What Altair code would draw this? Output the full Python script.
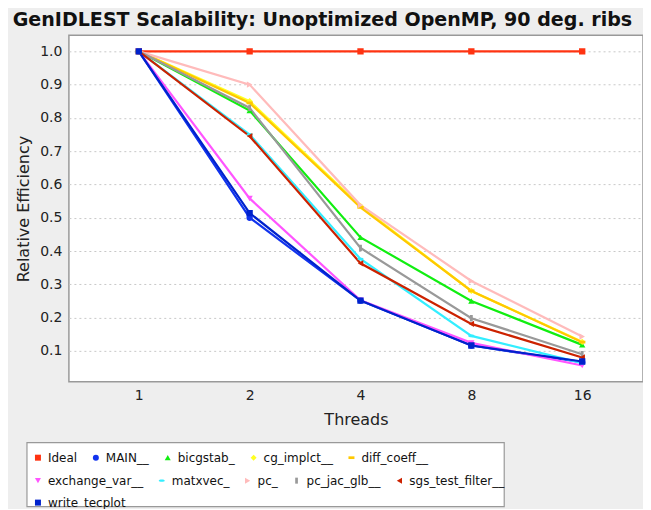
import altair as alt
import pandas as pd

threads = [1, 2, 4, 8, 16]
series_names = ["Ideal", "MAIN__", "bicgstab_", "cg_implct__", "diff_coeff__",
                "exchange_var__", "matxvec_", "pc_", "pc_jac_glb__",
                "sgs_test_filter__", "write_tecplot__"]
ideal = [1.0, 1.0, 1.0, 1.0, 1.0]
main_ = [1.0, 0.500, 0.251, 0.116, 0.066]
bicgstab = [1.0, 0.822, 0.441, 0.250, 0.118]
cg_implct = [1.0, 0.850, 0.535, 0.280, 0.127]
diff_coeff = [1.0, 0.845, 0.531, 0.280, 0.126]
exchange_var = [1.0, 0.558, 0.252, 0.124, 0.056]
matxvec = [1.0, 0.750, 0.376, 0.145, 0.063]
pc = [1.0, 0.900, 0.538, 0.310, 0.143]
pc_jac_glb = [1.0, 0.830, 0.409, 0.198, 0.090]
sgs_test_filter = [1.0, 0.745, 0.363, 0.181, 0.080]
write_tecplot = [1.0, 0.514, 0.251, 0.116, 0.068]

values = [ideal, main_, bicgstab, cg_implct, diff_coeff, exchange_var,
          matxvec, pc, pc_jac_glb, sgs_test_filter, write_tecplot]
colors = ["#ff3311", "#1133ee", "#11ee11", "#ffff22", "#ffc800", "#ff55ff",
          "#33eeff", "#ffbbbb", "#999999", "#cc2200", "#0022cc"]
shapes = ["square", "circle", "triangle-up", "diamond",
          "M-1,-0.45H1V0.45H-1Z", "triangle-down",
          "M-1,0A1,0.4 0 1,0 1,0A1,0.4 0 1,0 -1,0Z", "triangle-right",
          "M-0.45,-1H0.45V1H-0.45Z", "triangle-left", "square"]
legend_rows = [series_names[0:5], series_names[5:10], series_names[10:11]]

rows = []
for i, (name, vals) in enumerate(zip(series_names, values)):
    for t, v in zip(threads, vals):
        rows.append({"series": name, "order": i, "threads": t, "eff": v})
df = pd.DataFrame(rows)

xenc = alt.X("threads:Q",
             scale=alt.Scale(type="log", base=2, domain=[0.646, 23.4], nice=False),
             axis=alt.Axis(values=threads, format="d", title="Threads", grid=False,
                           ticks=False, domain=False, labelFontSize=14,
                           labelPadding=7, titleFontSize=16, titlePadding=9,
                           labelFont="DejaVu Sans", titleFont="DejaVu Sans",
                           titleFontWeight="normal", labelColor="#222",
                           titleColor="#222"))
yenc = alt.Y("eff:Q",
             scale=alt.Scale(domain=[0.007, 1.048], nice=False, zero=False),
             axis=alt.Axis(values=[0.1, 0.2, 0.3, 0.4, 0.5, 0.6, 0.7, 0.8, 0.9, 1.0],
                           format=".1f", title="Relative Efficiency", grid=True,
                           gridDash=[2, 3], gridColor="#c8c8c8", ticks=False,
                           domain=False, labelFontSize=14, labelPadding=7,
                           titleFontSize=16, titlePadding=8,
                           labelFont="DejaVu Sans", titleFont="DejaVu Sans",
                           titleFontWeight="normal", labelColor="#222",
                           titleColor="#222"))

# legend frame (decoration behind the legends)
frame = alt.Chart(pd.DataFrame({"a": [0]})).mark_rect(
    fill="white", stroke="#999999", strokeWidth=1.2, clip=False
).encode(x=alt.value(-42), x2=alt.value(436), y=alt.value(408), y2=alt.value(472))

lines = alt.Chart(df).mark_line(strokeWidth=2.2, clip=True).encode(
    x=xenc, y=yenc,
    color=alt.Color("series:N", scale=alt.Scale(domain=series_names, range=colors),
                    legend=None),
    detail="series:N",
    order="order:Q",
)

point_layers = []
row_tops = [417, 440, 462]
for names, top in zip(legend_rows, row_tops):
    idx = [series_names.index(n) for n in names]
    leg = alt.Legend(title=None, orient="none", legendX=-37, legendY=top,
                     direction="horizontal", columns=0, gridAlign="none",
                     labelFontSize=12, labelFont="DejaVu Sans", labelColor="#111",
                     symbolSize=36, symbolStrokeWidth=0, columnPadding=12,
                     padding=0, labelLimit=300, labelOffset=4, symbolType="square")
    pl = alt.Chart(df).transform_filter(
        alt.FieldOneOfPredicate(field="series", oneOf=names)
    ).mark_point(filled=True, size=40, opacity=1, clip=True).encode(
        x=xenc, y=yenc,
        color=alt.Color("series:N",
                        scale=alt.Scale(domain=names, range=[colors[i] for i in idx]),
                        legend=leg),
        shape=alt.Shape("series:N",
                        scale=alt.Scale(domain=names, range=[shapes[i] for i in idx]),
                        legend=leg),
        order="order:Q",
    )
    point_layers.append(pl)

chart = alt.layer(frame, lines, *point_layers).resolve_scale(
    color="independent", shape="independent"
).resolve_legend(color="independent", shape="independent").properties(
    width=575, height=347,
    padding={"left": 61, "top": 27, "right": 0, "bottom": 127},
    autosize=alt.AutoSizeParams(type="none"),
    background="#eeeeee",
    title=alt.Title("GenIDLEST Scalability: Unoptimized OpenMP, 90 deg. ribs",
                    anchor="start", dx=-3, offset=5, fontSize=19.1,
                    font="DejaVu Sans", fontWeight="bold", color="#111"),
).configure_view(
    stroke="#999999", strokeWidth=1.5, fill="white"
)

chart.save("out.html", embed_options={"renderer": "svg", "actions": False})
